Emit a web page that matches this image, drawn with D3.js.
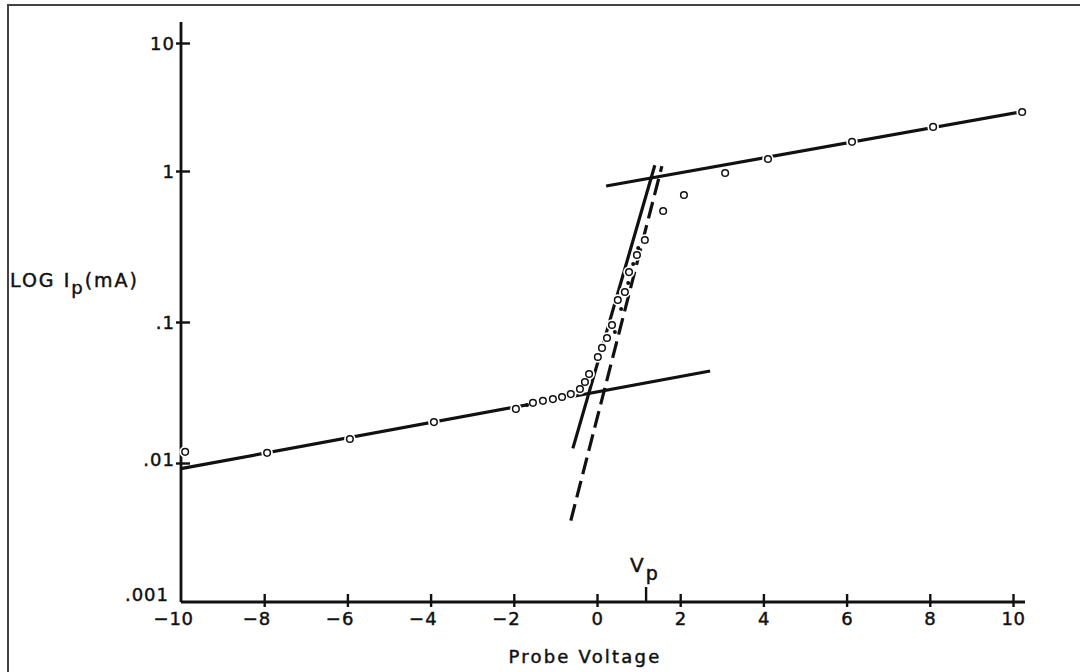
<!DOCTYPE html>
<html>
<head>
<meta charset="utf-8">
<script src="https://cdn.jsdelivr.net/npm/d3@7"></script>
<style>
  body { margin: 0; background: #fff; }
  svg { display: block; }
  text { stroke: #111; stroke-width: 0.45px; }
</style>
</head>
<body>
<div id="chart"></div>
<script>
// Langmuir probe trace: log of probe current vs probe voltage

const voltTicks = [-10, -8, -6, -4, -2, 0, 2, 4, 6, 8, 10];
const currentTicks = [0.001, 0.01, 0.1, 1, 10];
const currentTickLabels = [".001", ".01", ".1", "1", "10"];

// measured points (open circles)
const pointVolts = [-9.9, -7.93, -5.94, -3.92, -1.95, -1.54, -1.3, -1.06, -0.84, -0.63, -0.41,
  -0.29, -0.19, 0.02, 0.12, 0.24, 0.36, 0.5, 0.67, 0.77, 0.96, 1.15, 1.59, 2.09, 3.08,
  4.11, 6.13, 8.08, 10.22];
const pointCurrent = [0.012, 0.0118, 0.0148, 0.0195, 0.0242, 0.0267, 0.0276, 0.0284, 0.0294, 0.0308, 0.0335,
  0.0375, 0.0428, 0.0565, 0.0655, 0.0771, 0.0953, 0.14, 0.158, 0.214, 0.278, 0.349, 0.543, 0.693, 0.97,
  1.24, 1.69, 2.21, 2.89];

// small filled dots between the circles
const dotVolts = [-1.68, 0.43, 0.58, 0.75, 0.87, 0.99];
const dotCurrent = [0.0258, 0.0849, 0.122, 0.181, 0.242, 0.309];

// straight-line fits (two end points each)
const ionFitVolts = [-10, 2.72];
const ionFitCurrent = [0.0091, 0.0449];
const satFitVolts = [0.22, 10.17];
const satFitCurrent = [0.796, 2.89];
const slopeFitVolts = [-0.58, 1.39];
const slopeFitCurrent = [0.0127, 1.11];
const slopeDashVolts = [-0.63, 1.56];
const slopeDashCurrent = [0.00385, 1.09];

const plasmaPotential = 1.18;

const width = 1080, height = 672;
const font = "'DejaVu Sans', Verdana, sans-serif";

const svg = d3.select("#chart").append("svg")
  .attr("width", width)
  .attr("height", height);

// page frame
svg.append("rect")
  .attr("x", 8).attr("y", 5)
  .attr("width", width).attr("height", height)
  .attr("fill", "none").attr("stroke", "#444").attr("stroke-width", 2);

const x = d3.scaleLinear().domain([-10, 10]).range([181, 1013]);
// the printed decades are not all the same height, so map each decade
const y = d3.scaleLog()
  .domain(currentTicks)
  .range([602, 463, 322, 171, 43]);

const ink = "#111";

// axes
svg.append("line")
  .attr("x1", x(-10)).attr("x2", x(-10))
  .attr("y1", y(0.001)).attr("y2", 22)
  .attr("stroke", ink).attr("stroke-width", 2.8);
svg.append("line")
  .attr("x1", x(-10)).attr("x2", x(10) + 12)
  .attr("y1", y(0.001)).attr("y2", y(0.001))
  .attr("stroke", ink).attr("stroke-width", 2.8);

const xAxis = svg.append("g")
  .attr("transform", "translate(0," + y(0.001) + ")")
  .call(d3.axisBottom(x).tickValues(voltTicks).tickSize(0).tickFormat(d => Math.abs(d)));
xAxis.select(".domain").remove();
xAxis.selectAll(".tick").filter(d => d !== -10).append("line")
  .attr("y1", -8).attr("y2", 5)
  .attr("stroke", ink).attr("stroke-width", 2.4);
xAxis.selectAll(".tick text")
  .attr("y", 23).attr("dy", 0)
  .attr("font-family", font).attr("font-size", 18)
  .attr("letter-spacing", 0.5)
  .attr("fill", ink);
xAxis.selectAll(".tick").filter(d => d < 0).each(function () {
  const g = d3.select(this);
  const w = g.select("text").node().getComputedTextLength();
  g.append("text")
    .attr("x", -w / 2 - 1).attr("y", 23)
    .attr("text-anchor", "end")
    .attr("font-family", font).attr("font-size", 18)
    .attr("fill", ink)
    .text("\u2212");
});

const yAxis = svg.append("g")
  .attr("transform", "translate(" + x(-10) + ",0)")
  .call(d3.axisLeft(y).tickValues(currentTicks).tickSize(0)
    .tickFormat((d, i) => currentTickLabels[i]));
yAxis.select(".domain").remove();
yAxis.selectAll(".tick").filter(d => d !== 0.001).append("line")
  .attr("x1", -5).attr("x2", 9)
  .attr("stroke", ink).attr("stroke-width", 2.4);
yAxis.selectAll(".tick text")
  .attr("x", -6).attr("dy", "0.36em")
  .attr("font-family", font).attr("font-size", 18)
  .attr("letter-spacing", 1)
  .attr("fill", ink);
yAxis.selectAll(".tick").filter(d => d === 0.001).select("text")
  .attr("x", -12).attr("dy", "-0.1em");
yAxis.selectAll(".tick").filter(d => d === 0.01).select("text")
  .attr("dy", "0.15em");

// axis titles
const yTitle = svg.append("text")
  .attr("x", 10).attr("y", 287)
  .attr("font-family", font).attr("font-size", 19)
  .attr("letter-spacing", 2)
  .attr("fill", ink);
yTitle.append("tspan").text("LOG I");
yTitle.append("tspan").attr("dy", 7).attr("font-size", 18).text("p");
yTitle.append("tspan").attr("dy", -7).text("(mA)");

svg.append("text")
  .attr("x", 585).attr("y", 663)
  .attr("text-anchor", "middle")
  .attr("font-family", font).attr("font-size", 18)
  .attr("letter-spacing", 2.2)
  .attr("fill", ink)
  .text("Probe Voltage");

// plasma potential marker
svg.append("line")
  .attr("x1", x(plasmaPotential)).attr("x2", x(plasmaPotential))
  .attr("y1", y(0.001) - 15).attr("y2", y(0.001))
  .attr("stroke", ink).attr("stroke-width", 2.4);
const vp = svg.append("text")
  .attr("x", x(plasmaPotential) - 16).attr("y", y(0.001) - 30)
  .attr("font-family", font).attr("font-size", 20)
  .attr("fill", ink);
vp.append("tspan").text("V");
vp.append("tspan").attr("dy", 8).attr("dx", 2).attr("font-size", 19).text("p");

// fitted lines
const fits = [
  { v: ionFitVolts, c: ionFitCurrent, dash: null },
  { v: satFitVolts, c: satFitCurrent, dash: null },
  { v: slopeFitVolts, c: slopeFitCurrent, dash: null },
  { v: slopeDashVolts, c: slopeDashCurrent, dash: "17,7" }
];
const line = d3.line().x(d => x(d[0])).y(d => y(d[1]));
svg.append("g").selectAll("path")
  .data(fits)
  .join("path")
  .attr("d", d => line(d3.zip(d.v, d.c)))
  .attr("fill", "none")
  .attr("stroke", ink)
  .attr("stroke-width", 3.2)
  .attr("stroke-dasharray", d => d.dash);

const points = d3.zip(pointVolts, pointCurrent);
const dots = d3.zip(dotVolts, dotCurrent);

// white gap where the lines run through the symbols
svg.append("g").selectAll("circle")
  .data(points)
  .join("circle")
  .attr("cx", d => x(d[0])).attr("cy", d => y(d[1]))
  .attr("r", 3.3)
  .attr("fill", "#fff").attr("stroke", "#fff").attr("stroke-width", 5);

svg.append("g").selectAll("circle")
  .data(points)
  .join("circle")
  .attr("cx", d => x(d[0])).attr("cy", d => y(d[1]))
  .attr("r", 3.3)
  .attr("fill", "#fff").attr("stroke", ink).attr("stroke-width", 1.5);

svg.append("g").selectAll("circle")
  .data(dots)
  .join("circle")
  .attr("cx", d => x(d[0])).attr("cy", d => y(d[1]))
  .attr("r", 2)
  .attr("fill", ink);
</script>
</body>
</html>
